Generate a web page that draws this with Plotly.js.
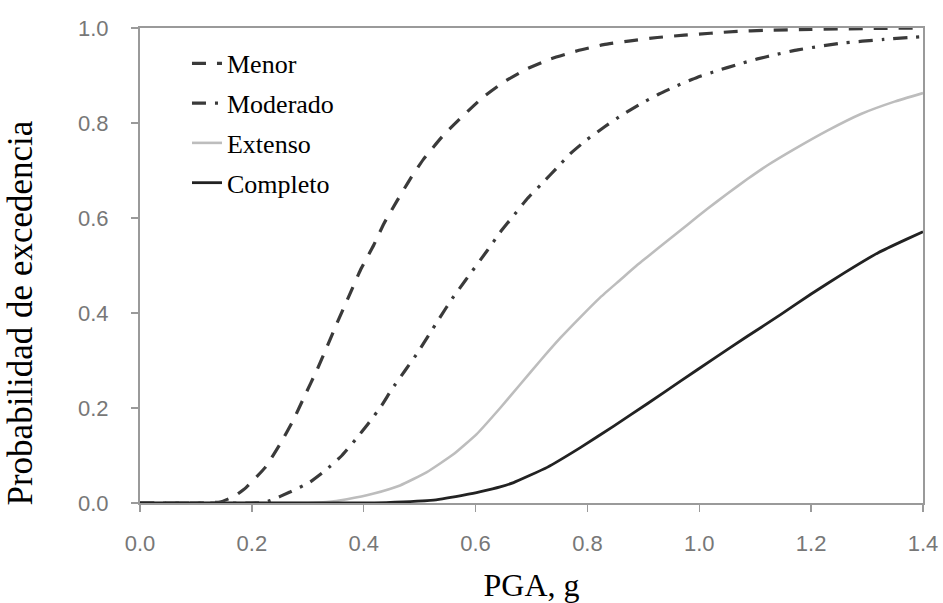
<!DOCTYPE html>
<html>
<head>
<meta charset="utf-8">
<script src="https://cdn.plot.ly/plotly-3.0.1.min.js"></script>
<style>html,body{margin:0;padding:0;background:#fff;}#chart{width:943px;height:603px;}</style>
</head>
<body>
<div id="chart"></div>
<script>
// Series names
const seriesNames = ["Menor", "Moderado", "Extenso", "Completo"];

// Menor (dashed)
const menorX = [0, 0.10, 0.143, 0.17, 0.19, 0.224, 0.251, 0.274, 0.295, 0.316, 0.334, 0.352, 0.373, 0.394, 0.418, 0.436, 0.459, 0.483, 0.507, 0.543, 0.579, 0.614, 0.650, 0.692, 0.734, 0.782, 0.829, 0.877, 0.925, 0.973, 1.02, 1.068, 1.116, 1.2, 1.3, 1.4];
const menorY = [0, 0, 0.002, 0.015, 0.033, 0.075, 0.125, 0.174, 0.227, 0.279, 0.328, 0.378, 0.434, 0.490, 0.543, 0.588, 0.635, 0.682, 0.724, 0.775, 0.817, 0.855, 0.886, 0.914, 0.935, 0.952, 0.965, 0.973, 0.980, 0.985, 0.989, 0.993, 0.995, 0.997, 0.999, 1.0];

// Moderado (dash-dot)
const moderadoX = [0, 0.20, 0.22, 0.233, 0.268, 0.304, 0.331, 0.361, 0.385, 0.408, 0.432, 0.450, 0.474, 0.495, 0.516, 0.537, 0.558, 0.582, 0.620, 0.644, 0.668, 0.692, 0.719, 0.745, 0.769, 0.799, 0.832, 0.862, 0.895, 0.928, 0.961, 0.996, 1.032, 1.068, 1.104, 1.140, 1.176, 1.253, 1.33, 1.4];
const moderadoY = [0, 0, 0.001, 0.005, 0.023, 0.044, 0.068, 0.100, 0.133, 0.167, 0.205, 0.239, 0.279, 0.314, 0.353, 0.392, 0.430, 0.469, 0.530, 0.570, 0.605, 0.640, 0.673, 0.705, 0.735, 0.765, 0.793, 0.817, 0.840, 0.861, 0.879, 0.896, 0.910, 0.923, 0.935, 0.945, 0.954, 0.968, 0.976, 0.982];

// Extenso (light solid)
const extensoX = [0, 0.30, 0.334, 0.370, 0.418, 0.465, 0.513, 0.561, 0.602, 0.644, 0.680, 0.716, 0.752, 0.788, 0.823, 0.859, 0.889, 0.907, 0.943, 0.979, 1.014, 1.050, 1.086, 1.122, 1.170, 1.229, 1.289, 1.349, 1.4];
const extensoY = [0, 0, 0.002, 0.008, 0.020, 0.037, 0.065, 0.103, 0.145, 0.200, 0.250, 0.300, 0.348, 0.392, 0.433, 0.470, 0.501, 0.518, 0.552, 0.586, 0.619, 0.651, 0.682, 0.711, 0.745, 0.784, 0.819, 0.845, 0.863];

// Completo (dark solid)
const completoX = [0, 0.40, 0.44, 0.525, 0.585, 0.609, 0.644, 0.668, 0.728, 0.788, 0.847, 0.907, 0.967, 1.026, 1.086, 1.146, 1.20, 1.26, 1.32, 1.37, 1.4];
const completoY = [0, 0, 0.001, 0.006, 0.018, 0.024, 0.034, 0.043, 0.075, 0.117, 0.162, 0.209, 0.257, 0.304, 0.351, 0.397, 0.440, 0.485, 0.527, 0.555, 0.571];

// Axis ticks
const xTicks = [0, 0.2, 0.4, 0.6, 0.8, 1.0, 1.2, 1.4];
const yTicks = [0, 0.2, 0.4, 0.6, 0.8, 1.0];

const traces = [
  {x: menorX, y: menorY, name: seriesNames[0], legendgroup: "a", mode: "lines",
   line: {color: "#3a3a3a", width: 3.2, dash: "14px,11px", shape: "spline", smoothing: 0.4}},
  {x: moderadoX, y: moderadoY, name: seriesNames[1], legendgroup: "b", mode: "lines",
   line: {color: "#3a3a3a", width: 3.2, dash: "14px,9px,3px,9px", shape: "spline", smoothing: 0.4}},
  {x: extensoX, y: extensoY, name: seriesNames[2], legendgroup: "c", mode: "lines",
   line: {color: "#bdbdbd", width: 2.6, shape: "spline", smoothing: 0.4}},
  {x: completoX, y: completoY, name: seriesNames[3], legendgroup: "d", mode: "lines",
   line: {color: "#222222", width: 2.8, shape: "spline", smoothing: 0.4}}
];

const axisCommon = {
  showline: true, mirror: true, linecolor: "#9a9a9a", linewidth: 2,
  ticks: "outside", ticklen: 7, tickwidth: 1.5, tickcolor: "#9a9a9a",
  showgrid: false, zeroline: false,
  tickfont: {family: "Liberation Sans, Arial, sans-serif", size: 22, color: "#777777"},
  tickformat: ".1f"
};

const layout = {
  width: 943, height: 603,
  margin: {l: 140, r: 20, t: 28, b: 100},
  paper_bgcolor: "#ffffff", plot_bgcolor: "#ffffff",
  showlegend: true,
  legend: {
    x: 0.06, y: 0.975, xanchor: "left", yanchor: "top",
    bgcolor: "rgba(0,0,0,0)", borderwidth: 0,
    font: {family: "Liberation Serif, Times New Roman, serif", size: 26, color: "#000"},
    tracegroupgap: 3, traceorder: "grouped"
  },
  xaxis: Object.assign({}, axisCommon, {
    range: [0, 1.4], tickvals: xTicks, ticklabelstandoff: 13,
    title: {text: "PGA, g", font: {family: "Liberation Serif, Times New Roman, serif", size: 32, color: "#000"}, standoff: 23}
  }),
  yaxis: Object.assign({}, axisCommon, {
    range: [0, 1], tickvals: yTicks, ticklabelstandoff: 18
  }),
  annotations: [{
    text: "Probabilidad de excedencia", textangle: -90,
    xref: "paper", yref: "paper", x: -0.152, y: 0.401,
    xanchor: "center", yanchor: "middle", showarrow: false,
    font: {family: "Liberation Serif, Times New Roman, serif", size: 35, color: "#000"}
  }]
};

Plotly.newPlot("chart", traces, layout, {displayModeBar: false, staticPlot: true});
</script>
</body>
</html>
